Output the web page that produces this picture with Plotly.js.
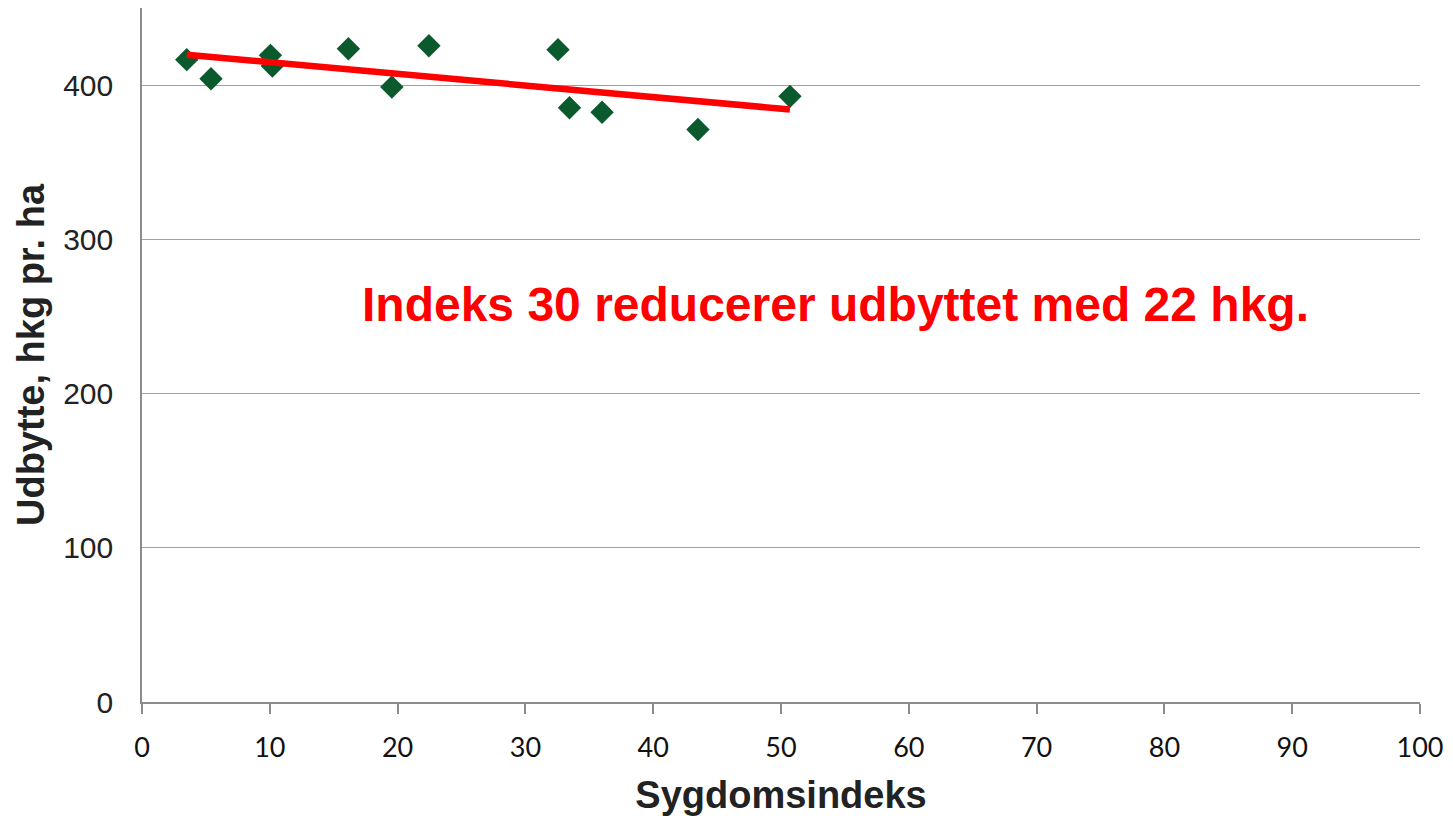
<!DOCTYPE html>
<html>
<head>
<meta charset="utf-8">
<script src="https://cdn.plot.ly/plotly-3.0.1.min.js"></script>
<style>html,body{margin:0;padding:0;background:#fff;}#chart{width:1453px;height:816px;}</style>
</head>
<body>
<div id="chart"></div>
<script>
// Observed points: disease index vs. yield
const sygdomsindeks = [3.5, 5.4, 10.05, 10.2, 16.15, 19.55, 22.45, 32.55, 33.45, 36.0, 43.5, 50.7];
const udbytte = [416.5, 404.1, 419.3, 412.4, 423.6, 398.8, 425.5, 423.0, 385.3, 382.4, 371.2, 392.7];
// Trend line end points
const trendX = [3.5, 50.7];
const trendY = [419.7, 384.2];
const xTicks = [0, 10, 20, 30, 40, 50, 60, 70, 80, 90, 100];
const yTicks = [0, 100, 200, 300, 400];
const annotationText = 'Indeks 30 reducerer udbyttet med 22 hkg.';
const xTitle = 'Sygdomsindeks';
const yTitle = 'Udbytte, hkg pr. ha';

const traces = [
  {
    x: sygdomsindeks, y: udbytte, type: 'scatter', mode: 'markers',
    marker: {symbol: 'diamond', size: 18, color: '#0b5a2d', line: {width: 0}},
    hoverinfo: 'x+y', showlegend: false
  },
  {
    x: trendX, y: trendY, type: 'scatter', mode: 'lines',
    line: {color: '#ff0000', width: 6.5},
    hoverinfo: 'skip', showlegend: false
  }
];

const layout = {
  width: 1453, height: 816,
  margin: {l: 142, r: 33, t: 8, b: 114},
  paper_bgcolor: '#ffffff', plot_bgcolor: '#ffffff',
  showlegend: false,
  xaxis: {
    range: [0, 100], tickvals: xTicks, ticktext: xTicks.map(String),
    showgrid: false, zeroline: false,
    showline: true, linecolor: '#8c8c8c', linewidth: 1.5,
    ticks: 'outside', ticklen: 10, tickwidth: 1.5, tickcolor: '#8c8c8c',
    ticklabelstandoff: 11,
    tickfont: {family: 'Lato, "Open Sans", sans-serif', size: 27, color: '#111111'},
    title: {text: xTitle, standoff: 20, font: {family: '"Liberation Sans", Arial, sans-serif', size: 38, color: '#222222', weight: 'bold'}},
    automargin: false, fixedrange: true
  },
  yaxis: {
    range: [0, 450], tickvals: yTicks, ticktext: yTicks.map(String),
    showgrid: true, gridcolor: '#a0a0a0', gridwidth: 1.3,
    zeroline: false,
    showline: true, linecolor: '#8c8c8c', linewidth: 1.5,
    ticks: '', ticklabelstandoff: 21,
    tickfont: {family: '"Liberation Sans", Arial, sans-serif', size: 30, color: '#222222'},
    title: {text: yTitle, standoff: 7, font: {family: '"Liberation Sans", Arial, sans-serif', size: 38, color: '#222222', weight: 'bold'}},
    automargin: false, fixedrange: true
  },
  annotations: [{
    text: annotationText, xref: 'paper', yref: 'paper',
    x: (835 - 142) / 1278, y: (702 - 304) / 694, xanchor: 'center', yanchor: 'middle',
    showarrow: false,
    font: {family: '"Liberation Sans", Arial, sans-serif', size: 48, color: '#ff0000', weight: 'bold'}
  }]
};

Plotly.newPlot('chart', traces, layout, {displayModeBar: false, staticPlot: false});
</script>
</body>
</html>
